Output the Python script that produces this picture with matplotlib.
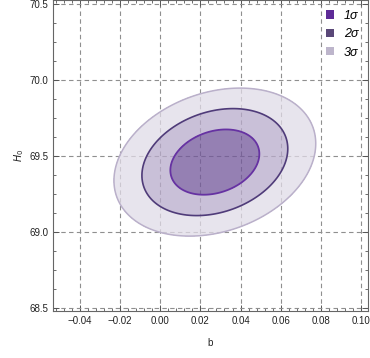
import numpy as np
import matplotlib
matplotlib.use("Agg")
import matplotlib.pyplot as plt
from matplotlib.patches import Patch
from matplotlib.ticker import MultipleLocator

# Gaussian posterior summary
mean_b = 0.0272
mean_H0 = 69.46
sigma_b = 0.0146
sigma_H0 = 0.1415
rho = 0.25
# Delta chi^2 levels for 1, 2, 3 sigma (2 parameters)
dchi2_levels = [2.30, 6.18, 11.83]
labels = ["1σ", "2σ", "3σ"]
fill_colors = ["#72569a", "#b8abcb", "#e0dbe7"]
line_colors = ["#6632a2", "#4f3b79", "#bab0ca"]
legend_colors = ["#5e2b97", "#5a4878", "#bdb5cb"]

xticks = [-0.04, -0.02, 0.00, 0.02, 0.04, 0.06, 0.08, 0.10]
yticks = [68.5, 69.0, 69.5, 70.0, 70.5]

plt.rcParams['font.family'] = ['Liberation Sans', 'DejaVu Sans']
fig = plt.figure(figsize=(3.70, 3.58), dpi=100)
ax = fig.add_axes([0.143, 0.131, 0.852, 0.869])

bb = np.linspace(-0.06, 0.11, 500)
hh = np.linspace(68.4, 70.6, 500)
B, H = np.meshgrid(bb, hh)
u = (B - mean_b) / sigma_b
v = (H - mean_H0) / sigma_H0
chi2 = (u**2 - 2 * rho * u * v + v**2) / (1 - rho**2)

bounds = [0] + dchi2_levels
for i in range(3):
    ax.contourf(B, H, chi2, levels=[bounds[i], bounds[i + 1]], colors=[fill_colors[i]],
                alpha=0.75, zorder=2)
for lev, lc, lw in zip(dchi2_levels, line_colors, [1.3, 1.2, 1.1]):
    ax.contour(B, H, chi2, levels=[lev], colors=[lc], linewidths=lw, zorder=4)

ax.set_xlim(-0.0534, 0.1035)
ax.set_ylim(68.48, 70.526)
ax.set_xticks(xticks)
ax.set_xticklabels(["\u22120.04", "\u22120.02", "0.00", "0.02", "0.04", "0.06", "0.08", "0.10"])
ax.set_yticks(yticks)
ax.set_yticklabels([f"{t:.1f}" for t in yticks])
ax.xaxis.set_minor_locator(MultipleLocator(0.004))
ax.yaxis.set_minor_locator(MultipleLocator(0.125))
ax.tick_params(which='both', direction='in', top=True, right=True, colors='#555555',
               labelcolor='#222222', labelsize=7)
ax.tick_params(which='major', length=4, width=0.7)
ax.tick_params(which='minor', length=2, width=0.6)
for s in ax.spines.values():
    s.set_color('#666666')
    s.set_linewidth(0.8)
    s.set_zorder(6)

ax.grid(True, which='major', color='#8f8f8f', linestyle=(0, (4, 3)), linewidth=0.8)
ax.set_axisbelow(True)
for gl in ax.get_xgridlines() + ax.get_ygridlines():
    gl.set_zorder(1)

ax.set_xlabel("b", fontsize=7, color='#222222', labelpad=9)
ax.set_ylabel("$H_0$", fontsize=7, color='#222222', labelpad=2)

handles = [Patch(facecolor=c, edgecolor='none') for c in legend_colors]
leg = ax.legend(handles, labels, loc='upper right', frameon=False,
                handlelength=0.65, handleheight=0.65, handletextpad=0.8, labelspacing=0.5,
                borderaxespad=0.4, prop={'style': 'italic', 'size': 9})
leg.set_zorder(10)

fig.savefig("out.png", dpi=100)
